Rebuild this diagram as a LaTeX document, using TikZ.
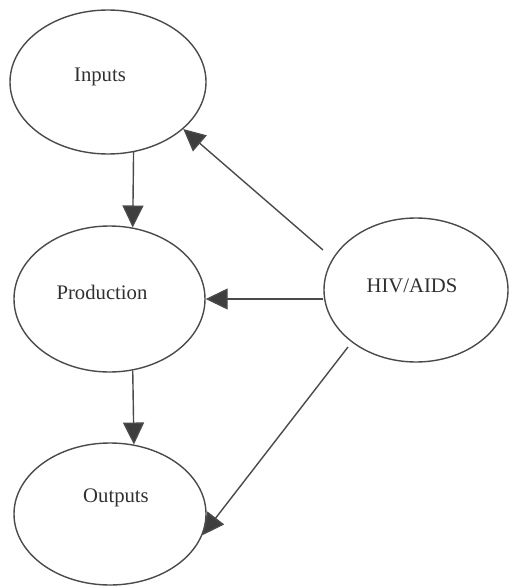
\documentclass[tikz,border=0pt]{standalone}
\usepackage{fontspec}
\setmainfont{Liberation Serif}
\usetikzlibrary{shapes.geometric,arrows.meta}
\definecolor{inkline}{HTML}{4A4A4A}
\definecolor{inktext}{HTML}{303030}
\definecolor{inkhead}{HTML}{3E3E3E}
\begin{document}
\begin{tikzpicture}[x=1pt,y=-1pt,
  bubble/.style={ellipse,draw=inkline,line width=1.4pt,inner sep=0pt},
  caption/.style={text=inktext,font=\fontsize{20.7}{24}\selectfont,inner sep=0pt},
  arr/.style={draw=inkline,line width=1.4pt,
    -{Triangle[length=22pt,width=21pt,fill=inkhead]}}]
  \useasboundingbox (0,0) rectangle (510,586);

  % ellipses
  \node[bubble,minimum width=196pt,minimum height=144pt] (inputs) at (108,82) {};
  \node[bubble,minimum width=191pt,minimum height=146pt] (production) at (109.5,299) {};
  \node[bubble,minimum width=192pt,minimum height=142pt] (outputs) at (110,514) {};
  \node[bubble,minimum width=184pt,minimum height=144pt] (hiv) at (416,290) {};

  % labels
  \node[caption] (inputs-t) at (100,77) {Inputs};
  \node[caption] (production-t) at (102,292) {Production};
  \node[caption] (outputs-t) at (116,498) {Outputs};
  \node[caption] (hiv-t) at (412,286) {HIV/AIDS};

  % free ends of the slanted connectors
  \coordinate (hivA) at (323,250);
  \coordinate (hivC) at (348,347);

  % main chain
  \draw[arr] (inputs.-70) -- (production.72);
  \draw[arr] (production.-72) -- (outputs.71.5);

  % effects of HIV/AIDS
  \draw[arr] (hivA) -- (inputs.-32);
  \draw[arr] (production.east -| hiv.west) -- (production.east);
  \draw[arr] (hivC) -- (outputs.-13);
\end{tikzpicture}
\end{document}
